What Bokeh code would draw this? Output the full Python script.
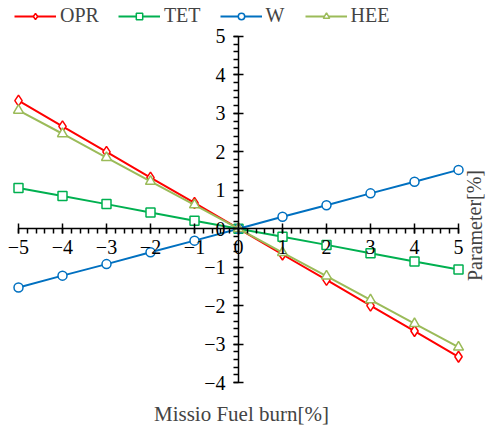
from bokeh.plotting import figure
from bokeh.models import Range1d, Legend, LegendItem, Label, SingleIntervalTicker
from bokeh.embed import file_html
from bokeh.resources import INLINE

x = [-5, -4, -3, -2, -1, 0, 1, 2, 3, 4, 5]
opr = [3.33, 2.66, 2.0, 1.33, 0.67, 0, -0.67, -1.33, -2.0, -2.66, -3.33]
tet = [1.06, 0.85, 0.64, 0.42, 0.21, 0, -0.21, -0.42, -0.64, -0.85, -1.06]
w = [-1.53, -1.22, -0.92, -0.61, -0.31, 0, 0.31, 0.61, 0.92, 1.22, 1.53]
hee = [3.08, 2.47, 1.85, 1.23, 0.62, 0, -0.62, -1.23, -1.85, -2.47, -3.08]

FONT = "Liberation Serif"
p = figure(width=486, height=431, output_backend="svg", toolbar_location=None,
           x_range=Range1d(-5.409, 5.636), y_range=Range1d(-5.273, 5.935),
           min_border=0, min_border_left=0, min_border_right=0,
           min_border_top=0, min_border_bottom=0)
p.outline_line_color = None
p.grid.visible = False

p.xaxis.fixed_location = 0
p.yaxis.fixed_location = 0
p.xaxis.bounds = (-5, 5)
p.yaxis.bounds = (-4, 5)
p.xaxis.ticker = SingleIntervalTicker(interval=1, num_minor_ticks=5)
p.yaxis.ticker = SingleIntervalTicker(interval=1, num_minor_ticks=5)
for ax in (p.xaxis, p.yaxis):
    ax.axis_line_color = "black"
    ax.axis_line_width = 1.5
    ax.major_tick_line_color = "black"
    ax.major_tick_line_width = 1.5
    ax.minor_tick_line_color = "black"
    ax.minor_tick_line_width = 1.5
    ax.major_tick_in = 5
    ax.major_tick_out = 5
    ax.minor_tick_in = 0
    ax.minor_tick_out = 5
    ax.major_label_text_font = FONT
    ax.major_label_text_font_size = "20px"
    ax.major_label_text_color = "black"
p.xaxis.major_label_standoff = 6
p.yaxis.major_label_standoff = 8

series = [("OPR", opr, "#FF0000", "diamond", 11),
          ("TET", tet, "#00B050", "square", 9),
          ("W", w, "#0070C0", "circle", 9),
          ("HEE", hee, "#9BBB59", "triangle", 10)]
items = []
for name, ys, col, mk, sz in series:
    r1 = p.line(x, ys, line_color=col, line_width=2)
    r2 = p.scatter(x, ys, marker=mk, size=sz, line_color=col, fill_color="white",
                   line_width=1.5)
    items.append(LegendItem(label=name, renderers=[r1, r2]))

legend = Legend(items=items, orientation="horizontal", location=(14, 404),
                label_text_font=FONT, label_text_font_size="20px",
                glyph_width=42, glyph_height=16, label_standoff=4, spacing=19,
                background_fill_alpha=0, border_line_color=None, padding=0, margin=0)
p.add_layout(legend, "center")

p.add_layout(Label(x=241, y=18, x_units="screen", y_units="screen",
                   text="Missio Fuel burn[%]", text_font=FONT, text_font_size="21px",
                   text_align="center", text_baseline="middle"))
p.add_layout(Label(x=474, y=206, x_units="screen", y_units="screen",
                   text="Parameter[%]", text_font=FONT, text_font_size="20px",
                   angle=1.5708, text_align="center", text_baseline="middle"))

open("out.html", "w").write(file_html(p, INLINE))
